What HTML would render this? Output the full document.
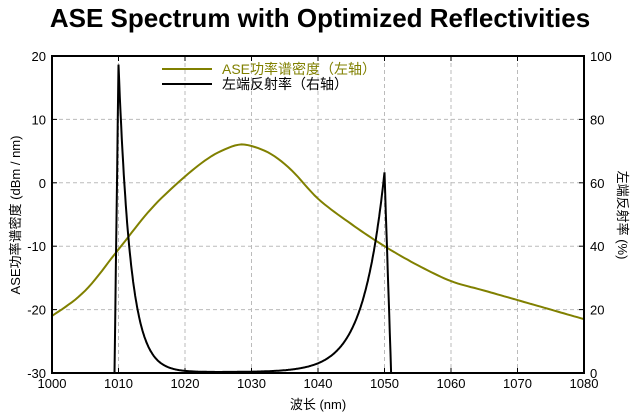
<!DOCTYPE html>
<html><head><meta charset="utf-8"><style>
body{margin:0;background:#fff;width:641px;height:415px;overflow:hidden}
svg text{font-family:"Liberation Sans","Noto Sans CJK SC",sans-serif}
</style></head><body>
<svg id="s" width="641" height="415" xmlns="http://www.w3.org/2000/svg">
<rect width="641" height="415" fill="#fff"/>
<text x="320" y="27" text-anchor="middle" font-size="26" font-weight="bold">ASE Spectrum with Optimized Reflectivities</text>
<g id="grid" stroke="#bbb" stroke-dasharray="4,3" stroke-width="1"></g>
<g id="ticks" stroke="#000" stroke-width="1"></g>
<polyline id="ase" fill="none" stroke="#808000" stroke-width="2"/>
<polyline id="ref" fill="none" stroke="#000" stroke-width="2"/>
<rect x="52" y="56" width="532" height="317" fill="none" stroke="#000" stroke-width="2"/>
<g id="lab" font-size="13"></g>
<line x1="162" y1="69" x2="212" y2="69" stroke="#808000" stroke-width="2"/>
<line x1="162" y1="84" x2="212" y2="84" stroke="#000" stroke-width="2"/>
<text x="222" y="74" font-size="14" fill="#808000">ASE功率谱密度（左轴）</text>
<text x="222" y="89" font-size="14">左端反射率（右轴）</text>
<text x="318" y="409" text-anchor="middle" font-size="13">波长 (nm)</text>
<text transform="translate(20,215) rotate(-90)" text-anchor="middle" font-size="13">ASE功率谱密度 (dBm / nm)</text>
<text transform="translate(618,215) rotate(90)" text-anchor="middle" font-size="13">左端反射率 (%)</text>
</svg>
<script>
var X=function(w){return 52+(w-1000)*532/80},YL=function(d){return 373-(d+30)*317/50},YR=function(r){return 373-r*3.17};
var g=document.getElementById('grid'),tk=document.getElementById('ticks'),lab=document.getElementById('lab'),NS='http://www.w3.org/2000/svg';
function el(p,t,a,txt){var e=document.createElementNS(NS,t);for(var k in a)e.setAttribute(k,a[k]);if(txt!=null)e.textContent=txt;p.appendChild(e);}
for(var w=1000;w<=1080;w+=10){if(w>1000&&w<1080){el(g,'line',{x1:X(w),y1:56,x2:X(w),y2:373});el(tk,'line',{x1:X(w),y1:56,x2:X(w),y2:61});el(tk,'line',{x1:X(w),y1:368,x2:X(w),y2:373});}el(lab,'text',{x:X(w),y:388,'text-anchor':'middle'},w);}
for(var d=-30;d<=20;d+=10){if(d>-30&&d<20){el(g,'line',{x1:52,y1:YL(d),x2:584,y2:YL(d)});el(tk,'line',{x1:52,y1:YL(d),x2:57,y2:YL(d)});el(tk,'line',{x1:579,y1:YL(d),x2:584,y2:YL(d)});}el(lab,'text',{x:46,y:YL(d)+5,'text-anchor':'end'},d);}
for(var r=0;r<=100;r+=20){el(lab,'text',{x:590,y:YR(r)+5},r);}
var A=[[995,-24],[1000,-21],[1005,-17],[1010,-10.5],[1015,-4],[1020,1],[1023,3.5],[1025,4.8],[1028,6],[1030,5.8],[1033,4.5],[1036,2],[1040,-2.5],[1045,-6.5],[1050,-10],[1055,-13],[1060,-15.5],[1065,-17],[1070,-18.5],[1075,-20],[1080,-21.5],[1085,-23]];
function cr(w){var i=1;while(i<A.length-3&&A[i+1][0]<w)i++;var p0=A[i-1],p1=A[i],p2=A[i+1],p3=A[i+2],t=(w-p1[0])/(p2[0]-p1[0]);
var m1=(p2[1]-p0[1])/(p2[0]-p0[0])*(p2[0]-p1[0]),m2=(p3[1]-p1[1])/(p3[0]-p1[0])*(p2[0]-p1[0]);var t2=t*t,t3=t2*t;
return (2*t3-3*t2+1)*p1[1]+(t3-2*t2+t)*m1+(-2*t3+3*t2)*p2[1]+(t3-t2)*m2;}
var pa=[];for(var w=1000;w<=1080;w+=0.5){pa.push(X(w).toFixed(1)+','+YL(cr(w)).toFixed(1));}
document.getElementById('ase').setAttribute('points',pa.join(' '));
var pr=[];for(var w=1000;w<=1080;w+=0.1){var v=0;if(w<1009.4)v=0;else if(w<1010)v=97*(w-1009.4)/0.6;else if(w<1025)v=97*Math.exp(-(w-1010)/1.8)+0.3;else if(w<1050)v=63*Math.exp(-(1050-w)/3.2)+0.3;else if(w<1051)v=63*(1051-w);else v=0;pr.push(X(w).toFixed(1)+','+YR(v).toFixed(1));}
document.getElementById('ref').setAttribute('points',pr.join(' '));
</script>
</body></html>
